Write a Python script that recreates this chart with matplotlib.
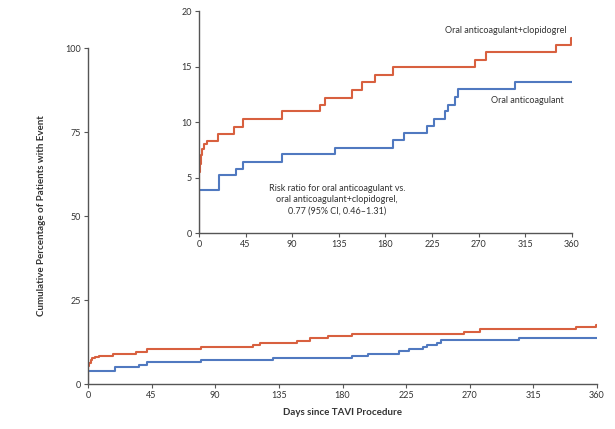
import matplotlib
matplotlib.use("Agg")
import matplotlib.pyplot as plt

plt.rcParams['font.family'] = ['Lato', 'DejaVu Sans']

# Data (Kaplan-Meier style step curves)
red_days = [0, 0, 1, 2, 3, 5, 8, 18, 34, 42, 80, 117, 122, 148, 157, 170, 187, 266, 277, 345, 359, 360]
red_vals = [0, 5.5, 6.2, 7.0, 7.6, 8.0, 8.3, 8.9, 9.6, 10.3, 11.0, 11.6, 12.2, 12.9, 13.6, 14.3, 15.0, 15.6, 16.3, 17.0, 17.6, 17.6]
blue_days = [0, 0, 19, 36, 42, 80, 131, 187, 198, 220, 227, 237, 240, 247, 250, 305, 360]
blue_vals = [0, 3.9, 5.2, 5.8, 6.4, 7.1, 7.7, 8.4, 9.0, 9.7, 10.3, 11.0, 11.6, 12.3, 13.0, 13.6, 13.6]

x_ticks = [0, 45, 90, 135, 180, 225, 270, 315, 360]
main_y_ticks = [0, 25, 50, 75, 100]
inset_y_ticks = [0, 5, 10, 15, 20]

label_red = "Oral anticoagulant+clopidogrel"
label_blue = "Oral anticoagulant"
rr_text = "Risk ratio for oral anticoagulant vs.\noral anticoagulant+clopidogrel,\n0.77 (95% CI, 0.46\u20131.31)"

RED = "#d8603f"
BLUE = "#5079c0"
GRAY = "#555555"

fig = plt.figure(figsize=(6.15, 4.29), dpi=100)

def style(ax, fs):
    for s in ['top', 'right']:
        ax.spines[s].set_visible(False)
    for s in ['left', 'bottom']:
        ax.spines[s].set_color(GRAY)
        ax.spines[s].set_linewidth(1.0)
    ax.tick_params(axis='both', colors=GRAY, labelcolor='#333333', labelsize=fs,
                   length=3, width=0.8, direction='out', pad=2)

# Main axes
ax = fig.add_axes([88/615, 1-384/429, (597-88)/615, (384-48)/429])
ax.step(red_days, red_vals, where='post', color=RED, lw=1.5)
ax.step(blue_days, blue_vals, where='post', color=BLUE, lw=1.5)
ax.set_xlim(0, 360)
ax.set_ylim(0, 100)
ax.set_xticks(x_ticks)
ax.set_yticks(main_y_ticks)
ax.margins(0)
style(ax, 6.5)
ax.set_xlabel("Days since TAVI Procedure", fontsize=7, fontweight='bold', color='#333333', labelpad=6)
ax.set_ylabel("Cumulative Percentage of Patients with Event", fontsize=7, fontweight='bold', color='#333333', labelpad=14)

# Inset axes
axi = fig.add_axes([199/615, 1-233/429, (572-199)/615, (233-11.5)/429])
axi.step(red_days, red_vals, where='post', color=RED, lw=1.5)
axi.step(blue_days, blue_vals, where='post', color=BLUE, lw=1.5)
axi.set_xlim(0, 360)
axi.set_ylim(0, 20)
axi.set_xticks(x_ticks)
axi.set_yticks(inset_y_ticks)
style(axi, 6.5)
axi.patch.set_alpha(0)

axi.text(355, 18.3, label_red, fontsize=6.5, color='#333333', ha='right', va='center')
axi.text(352, 12.0, label_blue, fontsize=6.5, color='#333333', ha='right', va='center')
axi.text(133, 3.0, rr_text, fontsize=6.5, color='#333333', ha='center', va='center', linespacing=1.3)

fig.savefig("out.png", dpi=100)
